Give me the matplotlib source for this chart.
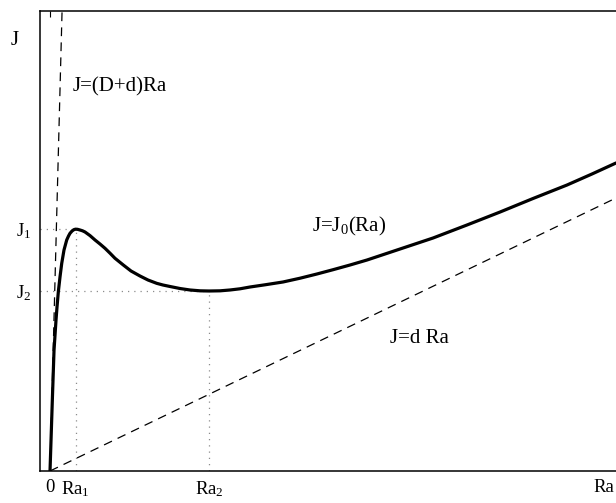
import matplotlib
matplotlib.use("Agg")
import matplotlib.pyplot as plt
import numpy as np

plt.rcParams['font.family'] = ['Liberation Serif', 'DejaVu Serif']
plt.rcParams['mathtext.fontset'] = 'custom'
plt.rcParams['mathtext.rm'] = 'Liberation Serif'
plt.rcParams['mathtext.it'] = 'Liberation Serif:italic'

# J0(Ra) curve
ra = [0, 0.041, 0.071, 0.106, 0.124, 0.147, 0.177, 0.207, 0.247, 0.295, 0.327,
      0.353, 0.389, 0.424, 0.451, 0.486, 0.530, 0.574, 0.618, 0.707, 0.795,
      0.883, 0.972, 1.060, 1.148, 1.295, 1.431, 1.590, 1.731, 1.885, 1.996,
      2.120, 2.297, 2.473, 2.650, 2.809, 3.004, 3.180, 3.357, 3.534, 3.799,
      4.117, 4.417, 4.717, 5.000, 5.300, 5.601, 6.184, 6.767, 7.367, 7.951,
      8.534, 9.134, 9.576, 10.0]
j0 = [0, 1.543, 2.630, 3.283, 3.572, 3.898, 4.224, 4.515, 4.804, 5.022, 5.109,
      5.167, 5.217, 5.248, 5.257, 5.254, 5.239, 5.222, 5.196, 5.117, 5.022,
      4.935, 4.841, 4.735, 4.624, 4.478, 4.348, 4.239, 4.152, 4.080, 4.043,
      4.011, 3.967, 3.935, 3.917, 3.913, 3.917, 3.935, 3.961, 4.000, 4.048,
      4.109, 4.191, 4.283, 4.376, 4.478, 4.587, 4.826, 5.065, 5.348, 5.630,
      5.924, 6.217, 6.457, 6.696]

Ra1, J1 = 0.451, 5.257
Ra2, J2 = 2.809, 3.913
d = 0.5935
Dd = 47.0
ra_line = [0, 10.3]

xtick_vals = [0, Ra1, Ra2, 9.79]
xtick_labels = ['0', r'Ra$_1$', r'Ra$_2$', 'Ra']
ytick_vals = [J2, J1]
ytick_labels = [r'J$_2$', r'J$_1$']

fig = plt.figure(figsize=(6.16, 5.03), dpi=100)
ax = fig.add_axes([40/616, 32/503, 593/616, 460/503])
ax.set_xlim(-0.177, 10.3)
ax.set_ylim(0, 10)

dot = dict(color='0.55', lw=0.9, linestyle=(0, (1, 4)))
ax.plot([-0.177, Ra1], [J1, J1], **dot)
ax.plot([Ra1, Ra1], [0, J1], **dot)
ax.plot([-0.177, Ra2], [J2, J2], **dot)
ax.plot([Ra2, Ra2], [0, J2], **dot)

ra_arr = np.array(ra_line)
ax.plot(ra_arr, d * ra_arr, color='black', lw=0.9, dashes=(7, 5))
ax.plot(ra_arr, Dd * ra_arr, color='black', lw=0.9, dashes=(7, 5))
ax.plot(ra, j0, color='black', lw=2.3, solid_capstyle='round',
        solid_joinstyle='round')

for s in ['left', 'bottom', 'top']:
    ax.spines[s].set_linewidth(1.1)
ax.spines['right'].set_visible(False)

ax.set_xticks(xtick_vals)
ax.set_xticklabels(xtick_labels)
ax.set_yticks(ytick_vals)
ax.set_yticklabels(ytick_labels)
ax.tick_params(axis='both', length=0, labelsize=13.5)
ax.tick_params(axis='x', pad=6)
ax.tick_params(axis='y', pad=6)

sec = ax.secondary_xaxis('top')
sec.set_xticks([0])
sec.set_xticklabels([''])
sec.tick_params(direction='in', length=4, width=0.8)
sec.spines['top'].set_visible(False)

ax.text(0.406, 8.24, 'J=(D+d)Ra', fontsize=15, va='baseline', ha='left')
ax.text(4.63, 5.196, r'J=J$_0$(Ra)', fontsize=15, va='baseline', ha='left')
ax.text(6.007, 2.78, 'J=d Ra', fontsize=15, va='baseline', ha='left')
fig.text(11/616, (503-45)/503, 'J', fontsize=15, va='baseline', ha='left')

fig.savefig('out.png', dpi=100)
